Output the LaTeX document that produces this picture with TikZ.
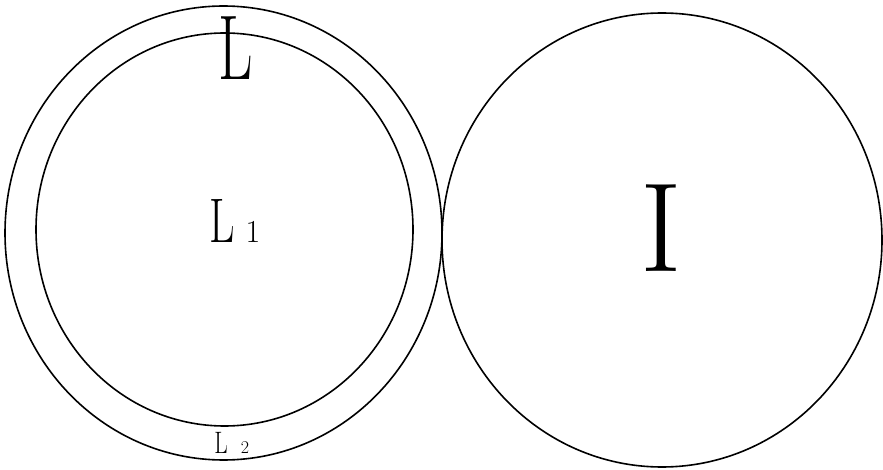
\documentclass[tikz,border=0pt]{standalone}
\usepackage{fontspec}
\begin{document}
\begin{tikzpicture}[x=1pt,y=-1pt,
  ring/.style={draw=black, line width=1.6pt},
  lbl/.style={inner sep=0pt, text=black}]
\useasboundingbox (0,0) rectangle (883,470);
% rings
\draw[ring] (223.5,233) ellipse [x radius=218.5pt, y radius=227pt];
\draw[ring] (224.5,229.5) ellipse [x radius=188.5pt, y radius=196.5pt];
\draw[ring] (662,240) ellipse [x radius=220pt, y radius=227pt];
% labels
\node[lbl, anchor=base, xscale=0.65] (topL) at (236,80) {\fontsize{92}{92}\selectfont L};
\node[lbl, anchor=base, xscale=0.7] (cL) at (222,243) {\fontsize{63}{63}\selectfont L};
\node[lbl, anchor=base] (cOne) at (253,243) {\fontsize{32}{32}\selectfont 1};
\node[lbl, anchor=base, xscale=0.75] (bL) at (221,453) {\fontsize{31}{31}\selectfont L};
\node[lbl, anchor=base] (bTwo) at (245,453) {\fontsize{18}{18}\selectfont 2};
\node[lbl] (rI) at (661,228) {\fontsize{127}{127}\selectfont I};
\end{tikzpicture}
\end{document}
